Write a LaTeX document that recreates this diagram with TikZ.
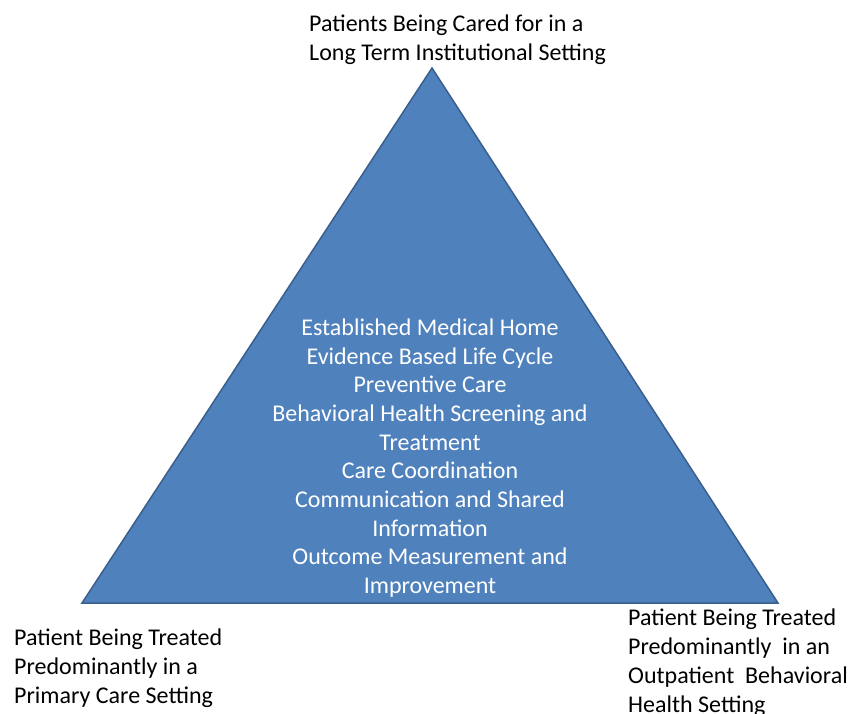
\documentclass[tikz,border=0pt]{standalone}
\usepackage{fontspec}
\setmainfont{Carlito}
\definecolor{triFill}{HTML}{4F81BD}
\definecolor{triEdge}{HTML}{3A5F8C}
\tikzset{
  lbl/.style={inner sep=0pt, align=left, anchor=north west,
    font=\fontsize{24}{29}\selectfont},
  inner/.style={inner sep=0pt, align=center, anchor=north, text=white,
    font=\fontsize{24}{28.7}\selectfont},
  tri/.style={fill=triFill, draw=triEdge, line width=1.5pt, line join=miter}
}
\begin{document}
\begin{tikzpicture}[x=1pt,y=-1pt]
  \useasboundingbox (0,0) rectangle (848,713);
  % the triangle
  \coordinate (apex) at (432,68);
  \coordinate (bl) at (82,603);
  \coordinate (br) at (778,603);
  \draw[tri] (apex) -- (br) -- (bl) -- cycle;
  % corner labels
  \node[lbl] (topLbl) at (309,15) {Patients Being Cared for in a\\Long Term Institutional Setting};
  \node[lbl] (leftLbl) at (14,629) {Patient Being Treated\\Predominantly in a\\Primary Care Setting};
  \node[lbl] (rightLbl) at (628,609) {Patient Being Treated\\Predominantly \ in an\\Outpatient \ Behavioral\\Health Setting};
  % content of the triangle
  \node[inner] (core) at (430,318.5) {Established Medical Home\\Evidence Based Life Cycle\\Preventive Care\\Behavioral Health Screening and\\Treatment\\Care Coordination\\Communication and Shared\\Information\\Outcome Measurement and\\Improvement};
\end{tikzpicture}
\end{document}
